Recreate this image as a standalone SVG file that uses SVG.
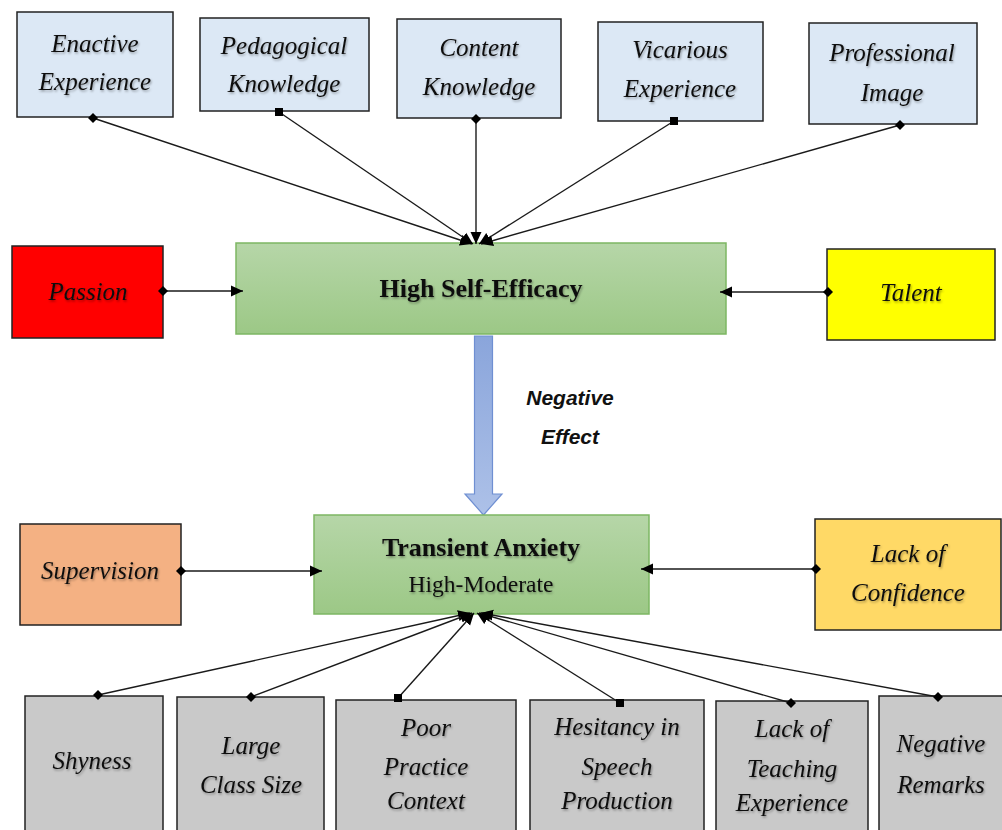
<svg xmlns="http://www.w3.org/2000/svg" width="1002" height="830" viewBox="0 0 1002 830">
  <defs>
    <linearGradient id="gGreen" x1="0" y1="0" x2="0" y2="1">
      <stop offset="0" stop-color="#b6d6a8"/>
      <stop offset="1" stop-color="#9cc886"/>
    </linearGradient>
    <linearGradient id="gBlue" x1="0" y1="0" x2="0" y2="1">
      <stop offset="0" stop-color="#8aa5db"/>
      <stop offset="1" stop-color="#adc1e8"/>
    </linearGradient>
    <filter id="shadow" x="-10%" y="-20%" width="120%" height="150%">
      <feDropShadow dx="1" dy="1.5" stdDeviation="0.8" flood-color="#000" flood-opacity="0.35"/>
    </filter>
    <marker id="diamond" markerUnits="userSpaceOnUse" markerWidth="12" markerHeight="12" refX="6" refY="6" orient="0">
      <path d="M1,6 L6,1 L11,6 L6,11 z" fill="#000"/>
    </marker>
    <marker id="square" markerUnits="userSpaceOnUse" markerWidth="10" markerHeight="10" refX="5" refY="5" orient="0">
      <rect x="1" y="1" width="8" height="8" fill="#000"/>
    </marker>
    <marker id="arrow" markerUnits="userSpaceOnUse" markerWidth="13" markerHeight="13" refX="12" refY="6.5" orient="auto">
      <path d="M0,1 L12,6.5 L0,12 z" fill="#000"/>
    </marker>
  </defs>
  <style>
    .box { stroke: #222; stroke-width: 1.5; }
    .blue { fill: #dce8f5; }
    .grey { fill: #c9c9c9; }
    .core { fill: url(#gGreen); stroke: #7db763; stroke-width: 1.5; }
    .lbl { font-family: "Liberation Serif", "Times New Roman", serif; font-style: italic; font-size: 25px; fill: #111; text-anchor: middle; filter: url(#shadow); }
    .title { font-family: "Liberation Serif", "Times New Roman", serif; font-weight: bold; font-size: 26px; fill: #111; text-anchor: middle; filter: url(#shadow); }
    .sub { font-family: "Liberation Serif", "Times New Roman", serif; font-size: 23.5px; fill: #111; text-anchor: middle; filter: url(#shadow); }
    .effect { font-family: "Liberation Sans", Arial, sans-serif; font-weight: bold; font-style: italic; font-size: 21px; fill: #111; text-anchor: middle; }
    .link { fill: none; stroke: #1a1a1a; stroke-width: 1.4; marker-end: url(#arrow); }
    .d { marker-start: url(#diamond); }
    .s { marker-start: url(#square); }
  </style>

  <!-- block arrow: negative effect -->
  <g id="negative-effect">
    <path d="M474.5,336 L492.5,336 L492.5,494 L502,494 L483.5,515 L465,494 L474.5,494 z" fill="url(#gBlue)" stroke="#6f8fd2" stroke-width="1.2"/>
    <text class="effect" x="570" y="405">Negative</text>
    <text class="effect" x="570" y="444">Effect</text>
  </g>

  <!-- top factors -->
  <g id="enactive-experience">
    <rect class="box blue" x="17" y="12" width="156" height="105"/>
    <text class="lbl" x="95" y="52">Enactive</text>
    <text class="lbl" x="95" y="90">Experience</text>
  </g>
  <g id="pedagogical-knowledge">
    <rect class="box blue" x="200" y="18" width="169" height="93"/>
    <text class="lbl" x="284" y="54">Pedagogical</text>
    <text class="lbl" x="284" y="92">Knowledge</text>
  </g>
  <g id="content-knowledge">
    <rect class="box blue" x="397" y="19" width="164" height="99"/>
    <text class="lbl" x="479" y="56">Content</text>
    <text class="lbl" x="479" y="95">Knowledge</text>
  </g>
  <g id="vicarious-experience">
    <rect class="box blue" x="598" y="22" width="165" height="99"/>
    <text class="lbl" x="680" y="58">Vicarious</text>
    <text class="lbl" x="680" y="97">Experience</text>
  </g>
  <g id="professional-image">
    <rect class="box blue" x="809" y="23" width="168" height="101"/>
    <text class="lbl" x="892" y="61">Professional</text>
    <text class="lbl" x="892" y="101">Image</text>
  </g>

  <!-- high self-efficacy row -->
  <g id="passion">
    <rect class="box" x="12" y="246" width="151" height="92" fill="#ff0000"/>
    <text class="lbl" x="88" y="300">Passion</text>
  </g>
  <g id="high-self-efficacy">
    <rect class="core" x="236" y="243" width="490" height="91"/>
    <text class="title" x="481" y="297">High Self-Efficacy</text>
  </g>
  <g id="talent">
    <rect class="box" x="827" y="249" width="168" height="91" fill="#ffff00"/>
    <text class="lbl" x="911" y="301">Talent</text>
  </g>

  <!-- transient anxiety row -->
  <g id="supervision">
    <rect class="box" x="20" y="524" width="161" height="101" fill="#f4b183"/>
    <text class="lbl" x="100" y="579">Supervision</text>
  </g>
  <g id="transient-anxiety">
    <rect class="core" x="314" y="515" width="335" height="99"/>
    <text class="title" x="481" y="556">Transient Anxiety</text>
    <text class="sub" x="481" y="592">High-Moderate</text>
  </g>
  <g id="lack-of-confidence">
    <rect class="box" x="815" y="519" width="186" height="111" fill="#ffd966"/>
    <text class="lbl" x="908" y="562">Lack of</text>
    <text class="lbl" x="908" y="601">Confidence</text>
  </g>

  <!-- bottom factors -->
  <g id="shyness">
    <rect class="box grey" x="25" y="696" width="138" height="140"/>
    <text class="lbl" x="92" y="769">Shyness</text>
  </g>
  <g id="large-class-size">
    <rect class="box grey" x="177" y="697" width="147" height="140"/>
    <text class="lbl" x="251" y="754">Large</text>
    <text class="lbl" x="251" y="793">Class Size</text>
  </g>
  <g id="poor-practice-context">
    <rect class="box grey" x="336" y="700" width="180" height="140"/>
    <text class="lbl" x="426" y="736">Poor</text>
    <text class="lbl" x="426" y="775">Practice</text>
    <text class="lbl" x="426" y="809">Context</text>
  </g>
  <g id="hesitancy-in-speech-production">
    <rect class="box grey" x="530" y="700" width="174" height="140"/>
    <text class="lbl" x="617" y="735">Hesitancy in</text>
    <text class="lbl" x="617" y="775">Speech</text>
    <text class="lbl" x="617" y="809">Production</text>
  </g>
  <g id="lack-of-teaching-experience">
    <rect class="box grey" x="716" y="701" width="152" height="140"/>
    <text class="lbl" x="792" y="737">Lack of</text>
    <text class="lbl" x="792" y="777">Teaching</text>
    <text class="lbl" x="792" y="811">Experience</text>
  </g>
  <g id="negative-remarks">
    <rect class="box grey" x="879" y="696" width="130" height="140"/>
    <text class="lbl" x="941" y="752">Negative</text>
    <text class="lbl" x="941" y="793">Remarks</text>
  </g>

  <!-- connectors, drawn last so their end markers sit on the box edges -->
  <g id="connectors">
    <line class="link d" x1="93" y1="118" x2="472" y2="244"/>
    <line class="link s" x1="279" y1="112" x2="473" y2="244"/>
    <line class="link d" x1="476" y1="119" x2="476" y2="244"/>
    <line class="link s" x1="674" y1="121" x2="479" y2="244"/>
    <line class="link d" x1="900" y1="125" x2="481" y2="244"/>
    <line class="link d" x1="163" y1="291" x2="243" y2="291"/>
    <line class="link d" x1="828" y1="292" x2="720" y2="292"/>
    <line class="link d" x1="181" y1="571" x2="322" y2="571"/>
    <line class="link d" x1="816" y1="569" x2="641" y2="569"/>
    <line class="link d" x1="98" y1="695" x2="470" y2="613"/>
    <line class="link d" x1="251" y1="697" x2="472" y2="613"/>
    <line class="link s" x1="398" y1="698" x2="474" y2="613"/>
    <line class="link s" x1="620" y1="703" x2="477" y2="613"/>
    <line class="link d" x1="791" y1="703" x2="479" y2="613"/>
    <line class="link d" x1="938" y1="697" x2="481" y2="613"/>
  </g>
</svg>
